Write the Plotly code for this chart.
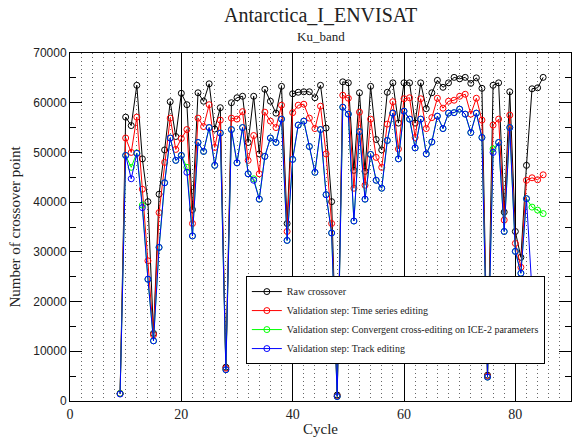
import plotly.graph_objects as go

cycles = list(range(9, 86))

raw = [1500, 57100, 55400, 63500, 48700, 40100, 13600, 41600, 50500, 60200,
       53200, 61900, 59600, 38500, 62000, 60300, 63800, 54700, 59000, 6800,
       60000, 61000, 61300, 52000, 61300, 49700, 62700, 60300, 57900, 63300,
       35700, 61800, 62100, 62200, 62200, 61000, 63500, 54900, 40100, 1200,
       64200, 64000, 46400, 62000, 46200, 63300, 52600, 50500, 62100, 64000,
       55900, 64000, 64000, 55900, 64000, 58800, 62000, 64500, 63100, 64000,
       65100, 64800, 65100, 63900, 65000, 62900, 5200, 63500, 64000, 38000,
       62200, 34100, 28900, 47400, 62800, 63000, 65100]

time_series = [1500, 52900, 50000, 57100, 42600, 28200, 13300, 37900, 48000, 56900,
               50600, 52800, 54600, 35700, 56900, 55200, 59600, 51000, 56500, 6600,
               56900, 56700, 58200, 48400, 53400, 45700, 58100, 56300, 55000, 59500,
               34100, 58000, 59500, 59700, 56900, 54800, 59300, 49700, 35700, 1000,
               61500, 60900, 42800, 58100, 43400, 56700, 49000, 47000, 55700, 60200,
               50700, 60800, 61000, 53000, 60800, 54800, 57000, 60900, 58900, 60300,
               60500, 61300, 61700, 57700, 60900, 56500, 5000, 55500, 56700, 36400,
               57500, 31700, 26900, 44400, 44900, 44500, 45500]

cross_edit = [1500, 49400, 47000, 49900, 39400, 24500, 12100, 30900, 43900, 52900,
              48400, 49400, 47000, 33200, 52000, 50200, 55000, 47400, 53900, 6300,
              54600, 47900, 55000, 45700, 44700, 40600, 49200, 52900, 52000, 56700,
              32300, 48600, 55500, 56300, 51200, 46000, 54600, 41500, 33800, 900,
              59100, 57700, 36200, 54200, 40600, 49600, 44400, 42800, 52400, 57900,
              48700, 58300, 56700, 50900, 56700, 49700, 52100, 57300, 54800, 57900,
              58000, 58700, 57700, 54000, 57900, 53000, 4800, 50700, 52000, 34100,
              55000, 30100, 25700, 40700, 39000, 38400, 37700]

track_cycles = list(range(9, 84))
track_edit = [1400, 49400, 44700, 49800, 38900, 24500, 12100, 30900, 43900, 52900,
              48400, 49400, 46000, 33200, 52000, 50200, 55000, 47400, 53900, 6300,
              54600, 47900, 55000, 45700, 44400, 40600, 49200, 52900, 52000, 56700,
              32300, 48600, 55500, 56300, 51200, 46000, 54600, 41500, 33800, 900,
              59100, 57700, 36200, 54200, 40600, 49600, 44400, 42800, 52400, 57900,
              48700, 58300, 56700, 50900, 56700, 49700, 52100, 57300, 54800, 57900,
              58000, 58700, 57700, 54000, 57900, 53000, 4800, 50000, 52000, 34100,
              55000, 30100, 25700, 40700, 22000]

names = ["Raw crossover",
         "Validation step: Time series editing",
         "Validation step: Convergent cross-editing on ICE-2 parameters",
         "Validation step: Track editing"]
colors = ["#000000", "#ff0000", "#00ff00", "#0000ff"]

serif = "Liberation Serif"
sans = "Liberation Sans"

fig = go.Figure()
series = [(cycles, raw), (cycles, time_series), (cycles, cross_edit), (track_cycles, track_edit)]
for (xs, ys), name, col in zip(series, names, colors):
    fig.add_trace(go.Scatter(
        x=xs, y=ys, name=name, mode="lines+markers",
        line=dict(color=col, width=1),
        marker=dict(symbol="circle-open", size=6, color=col, line=dict(width=1, color=col)),
    ))

fig.update_layout(
    width=575, height=437,
    margin=dict(l=70, r=3, t=53, b=33),
    paper_bgcolor="white", plot_bgcolor="white",
    showlegend=True,
    legend=dict(
        x=0.351, y=0.359, xanchor="left", yanchor="top",
        bgcolor="white", bordercolor="black", borderwidth=1,
        font=dict(family=serif, size=10, color="#222"),
        itemwidth=30, tracegroupgap=0,
    ),
    annotations=[
        dict(text="Antarctica_I_ENVISAT", xref="paper", yref="paper", x=0.5, y=1,
             xanchor="center", yanchor="bottom", yshift=25, showarrow=False,
             font=dict(family=serif, size=20, color="#222")),
        dict(text="Ku_band", xref="paper", yref="paper", x=0.5, y=1,
             xanchor="center", yanchor="bottom", yshift=7, showarrow=False,
             font=dict(family=serif, size=13, color="#222")),
    ],
)

fig.update_xaxes(
    range=[0, 90], dtick=20, tick0=0,
    showline=True, linecolor="black", linewidth=1, mirror="allticks",
    ticks="inside", ticklen=12, tickcolor="black",
    showgrid=True, gridcolor="black", gridwidth=1,
    zeroline=False,
    minor=dict(dtick=2, showgrid=True, gridcolor="#666", griddash="1px,3px", gridwidth=1),
    tickfont=dict(family=serif, size=14, color="#222"),
    title=dict(text="Cycle", font=dict(family=serif, size=15, color="#222"), standoff=2),
)
fig.update_yaxes(
    range=[0, 70000], dtick=10000, tick0=0, tickformat="d",
    showline=True, linecolor="black", linewidth=1, mirror="allticks",
    ticks="inside", ticklen=12, tickcolor="black",
    showgrid=False, zeroline=False,
    minor=dict(dtick=5000, ticks="inside", ticklen=6, tickcolor="black"),
    tickfont=dict(family=sans, size=12, color="#222"),
    title=dict(text="Number of crossover point", font=dict(family=serif, size=15, color="#222"), standoff=8),
)

fig.write_html("out.html")
